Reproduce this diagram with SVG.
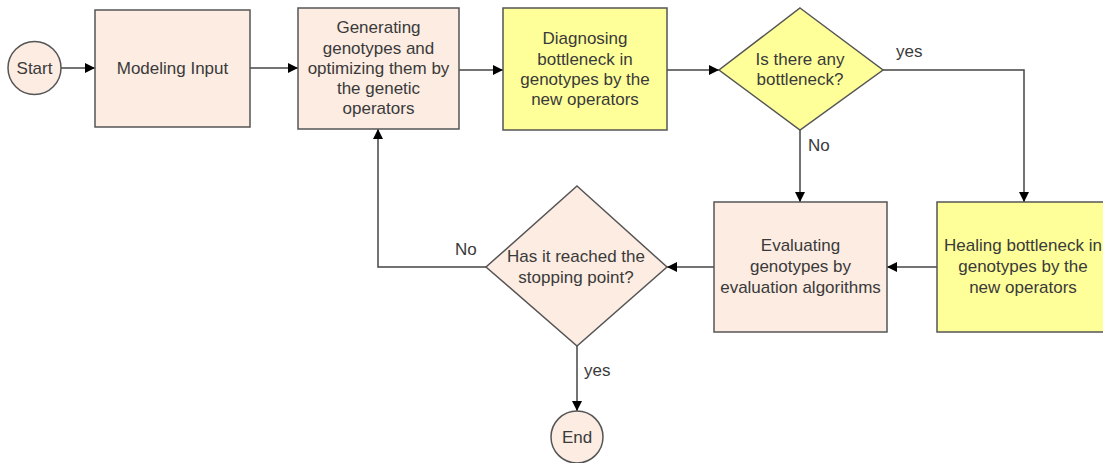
<svg xmlns="http://www.w3.org/2000/svg" width="1103" height="463" viewBox="0 0 1103 463">
  <style>
    .box { stroke: #555; stroke-width: 1.5; }
    .peach { fill: #fcece2; }
    .yellow { fill: #ffff99; }
    .lbl { font-family: "Liberation Sans", Arial, sans-serif; font-size: 17px; fill: #3a3a3a; text-anchor: middle; }
    .edge-lbl { font-family: "Liberation Sans", Arial, sans-serif; font-size: 17px; fill: #3a3a3a; }
    .conn { fill: none; stroke: #444; stroke-width: 1.5; marker-end: url(#arrow); }
  </style>
  <defs>
    <marker id="arrow" viewBox="0 0 10 10" refX="10" refY="5" markerWidth="10" markerHeight="10" markerUnits="userSpaceOnUse" orient="auto">
      <path d="M0,0 L10,5 L0,10 Z" fill="#000"/>
    </marker>
  </defs>
  <rect width="1103" height="463" fill="#fff"/>

  <g id="connectors">
    <path class="conn" d="M61,68 H95"/>
    <path class="conn" d="M250,68 H298"/>
    <path class="conn" d="M459,70 H503"/>
    <path class="conn" d="M667,70 H719"/>
    <path class="conn" d="M883,70 H1024 V202"/>
    <path class="conn" d="M800,130 V202"/>
    <path class="conn" d="M937,267 H887"/>
    <path class="conn" d="M714,267 H667"/>
    <path class="conn" d="M486,267 H378 V129"/>
    <path class="conn" d="M577,346 V411"/>
    <text class="edge-lbl" x="896" y="57">yes</text>
    <text class="edge-lbl" x="808" y="151">No</text>
    <text class="edge-lbl" x="455" y="255">No</text>
    <text class="edge-lbl" x="584" y="376">yes</text>
  </g>

  <g id="start">
    <circle class="box peach" cx="34.5" cy="68" r="26.5"/>
    <text class="lbl" x="34.5" y="74">Start</text>
  </g>

  <g id="modeling-input">
    <rect class="box peach" x="95" y="10" width="155" height="117"/>
    <text class="lbl" x="172.5" y="74">Modeling Input</text>
  </g>

  <g id="generating">
    <rect class="box peach" x="298" y="8" width="161" height="121"/>
    <text class="lbl" x="378.5" y="33">Generating</text>
    <text class="lbl" x="378.5" y="54">genotypes and</text>
    <text class="lbl" x="378.5" y="74">optimizing them by</text>
    <text class="lbl" x="378.5" y="94">the genetic</text>
    <text class="lbl" x="378.5" y="114">operators</text>
  </g>

  <g id="diagnosing">
    <rect class="box yellow" x="503" y="8" width="164" height="122"/>
    <text class="lbl" x="585" y="44">Diagnosing</text>
    <text class="lbl" x="585" y="65">bottleneck in</text>
    <text class="lbl" x="585" y="85">genotypes by the</text>
    <text class="lbl" x="585" y="105">new operators</text>
  </g>

  <g id="bottleneck-check">
    <polygon class="box yellow" points="800,8 883,70 800,130 719,70"/>
    <text class="lbl" x="800" y="65">Is there any</text>
    <text class="lbl" x="800" y="85">bottleneck?</text>
  </g>

  <g id="healing">
    <rect class="box yellow" x="937" y="202" width="172" height="130"/>
    <text class="lbl" x="1023" y="251">Healing bottleneck in</text>
    <text class="lbl" x="1023" y="272">genotypes by the</text>
    <text class="lbl" x="1023" y="293">new operators</text>
  </g>

  <g id="evaluating">
    <rect class="box peach" x="714" y="202" width="173" height="130"/>
    <text class="lbl" x="800.5" y="251">Evaluating</text>
    <text class="lbl" x="800.5" y="272">genotypes by</text>
    <text class="lbl" x="800.5" y="293">evaluation algorithms</text>
  </g>

  <g id="stop-check">
    <polygon class="box peach" points="577,186 667,267 577,346 486,267"/>
    <text class="lbl" x="576" y="262">Has it reached the</text>
    <text class="lbl" x="576" y="283">stopping point?</text>
  </g>

  <g id="end">
    <circle class="box peach" cx="577" cy="437" r="26"/>
    <text class="lbl" x="577" y="443">End</text>
  </g>
</svg>
